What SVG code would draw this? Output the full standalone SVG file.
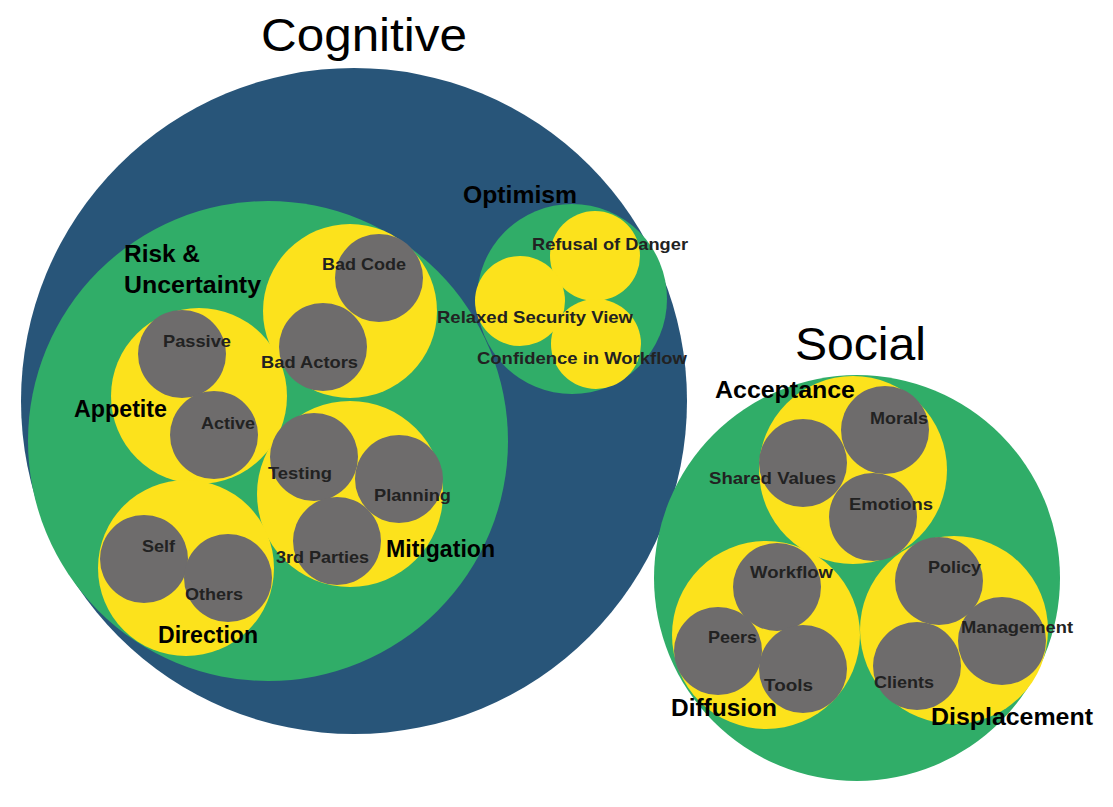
<svg xmlns="http://www.w3.org/2000/svg" width="1113" height="807" viewBox="0 0 1113 807">
<style>
.blue{fill:#285579}
.green{fill:#30ad68}
.yellow{fill:#fce21c}
.gray{fill:#6e6c6c}
.title{font-family:"Liberation Sans",Arial,sans-serif;font-size:46px;fill:#000}
.lbl{font-family:"Liberation Sans",Arial,sans-serif;font-size:23px;font-weight:bold;fill:#000}
.sm{font-family:"Liberation Sans",Arial,sans-serif;font-size:17px;font-weight:bold;fill:#222}
</style>
<rect width="1113" height="807" fill="#fff"/>
<g id="cognitive">
  <circle class="blue" cx="354" cy="401" r="333"/>
  <text class="title" x="261" y="51" textLength="206" lengthAdjust="spacingAndGlyphs">Cognitive</text>
</g>
<g id="risk-uncertainty">
  <circle class="green" cx="268" cy="441" r="240"/>
</g>
<g id="optimism">
  <circle class="green" cx="572" cy="299" r="95"/>
</g>
<g id="refusal-of-danger"><circle class="yellow" cx="595" cy="256" r="45"/></g>
<g id="relaxed-security-view"><circle class="yellow" cx="520" cy="301" r="45"/></g>
<g id="confidence-in-workflow"><circle class="yellow" cx="596" cy="344" r="45"/></g>
<g id="bad-yellow"><circle class="yellow" cx="350" cy="311" r="87"/></g>
<g id="appetite"><circle class="yellow" cx="199" cy="396" r="88"/></g>
<g id="mitigation"><circle class="yellow" cx="350" cy="494" r="93"/></g>
<g id="direction"><circle class="yellow" cx="186" cy="568" r="88"/></g>
<g id="bad-code"><circle class="gray" cx="379" cy="278" r="44"/></g>
<g id="bad-actors"><circle class="gray" cx="323" cy="347" r="44"/></g>
<g id="passive"><circle class="gray" cx="182" cy="354" r="44"/></g>
<g id="active"><circle class="gray" cx="214" cy="435" r="44"/></g>
<g id="testing"><circle class="gray" cx="314" cy="457" r="44"/></g>
<g id="planning"><circle class="gray" cx="399" cy="479" r="44"/></g>
<g id="third-parties"><circle class="gray" cx="337" cy="541" r="44"/></g>
<g id="self"><circle class="gray" cx="144" cy="559" r="44"/></g>
<g id="others"><circle class="gray" cx="228" cy="578" r="44"/></g>

<g id="social">
  <circle class="green" cx="857" cy="578" r="203"/>
  <text class="title" x="795" y="360" textLength="131" lengthAdjust="spacingAndGlyphs">Social</text>
</g>
<g id="acceptance"><circle class="yellow" cx="853" cy="470" r="94"/></g>
<g id="diffusion"><circle class="yellow" cx="766" cy="635" r="94"/></g>
<g id="displacement"><circle class="yellow" cx="954" cy="630" r="94"/></g>
<g id="morals"><circle class="gray" cx="885" cy="430" r="44"/></g>
<g id="shared-values"><circle class="gray" cx="803" cy="463" r="44"/></g>
<g id="emotions"><circle class="gray" cx="873" cy="517" r="44"/></g>
<g id="workflow"><circle class="gray" cx="777" cy="587" r="44"/></g>
<g id="peers"><circle class="gray" cx="718" cy="651" r="44"/></g>
<g id="tools"><circle class="gray" cx="803" cy="669" r="44"/></g>
<g id="policy"><circle class="gray" cx="939" cy="581" r="44"/></g>
<g id="management"><circle class="gray" cx="1002" cy="641" r="44"/></g>
<g id="clients"><circle class="gray" cx="917" cy="666" r="44"/></g>

<g id="connectors"></g>

<g id="labels">
  <text class="lbl" x="463" y="203" textLength="114" lengthAdjust="spacingAndGlyphs">Optimism</text>
  <text class="lbl" x="124" y="262" textLength="76" lengthAdjust="spacingAndGlyphs">Risk &amp;</text>
  <text class="lbl" x="124" y="293" textLength="137" lengthAdjust="spacingAndGlyphs">Uncertainty</text>
  <text class="lbl" x="74" y="417" textLength="93" lengthAdjust="spacingAndGlyphs">Appetite</text>
  <text class="lbl" x="386" y="557" textLength="109" lengthAdjust="spacingAndGlyphs">Mitigation</text>
  <text class="lbl" x="158" y="643" textLength="100" lengthAdjust="spacingAndGlyphs">Direction</text>
  <text class="lbl" x="715" y="398" textLength="140" lengthAdjust="spacingAndGlyphs">Acceptance</text>
  <text class="lbl" x="671" y="716" textLength="106" lengthAdjust="spacingAndGlyphs">Diffusion</text>
  <text class="lbl" x="931" y="725" textLength="162" lengthAdjust="spacingAndGlyphs">Displacement</text>

  <text class="sm" x="322" y="270" textLength="84" lengthAdjust="spacingAndGlyphs">Bad Code</text>
  <text class="sm" x="261" y="368" textLength="97" lengthAdjust="spacingAndGlyphs">Bad Actors</text>
  <text class="sm" x="163" y="347" textLength="68" lengthAdjust="spacingAndGlyphs">Passive</text>
  <text class="sm" x="201" y="429" textLength="54" lengthAdjust="spacingAndGlyphs">Active</text>
  <text class="sm" x="268" y="479" textLength="64" lengthAdjust="spacingAndGlyphs">Testing</text>
  <text class="sm" x="374" y="501" textLength="77" lengthAdjust="spacingAndGlyphs">Planning</text>
  <text class="sm" x="276" y="563" textLength="93" lengthAdjust="spacingAndGlyphs">3rd Parties</text>
  <text class="sm" x="142" y="552" textLength="33" lengthAdjust="spacingAndGlyphs">Self</text>
  <text class="sm" x="185" y="600" textLength="58" lengthAdjust="spacingAndGlyphs">Others</text>
  <text class="sm" x="532" y="250" textLength="156" lengthAdjust="spacingAndGlyphs">Refusal of Danger</text>
  <text class="sm" x="437" y="323" textLength="196" lengthAdjust="spacingAndGlyphs">Relaxed Security View</text>
  <text class="sm" x="477" y="364" textLength="210" lengthAdjust="spacingAndGlyphs">Confidence in Workflow</text>
  <text class="sm" x="870" y="424" textLength="58" lengthAdjust="spacingAndGlyphs">Morals</text>
  <text class="sm" x="709" y="484" textLength="127" lengthAdjust="spacingAndGlyphs">Shared Values</text>
  <text class="sm" x="849" y="510" textLength="84" lengthAdjust="spacingAndGlyphs">Emotions</text>
  <text class="sm" x="750" y="578" textLength="83" lengthAdjust="spacingAndGlyphs">Workflow</text>
  <text class="sm" x="708" y="643" textLength="49" lengthAdjust="spacingAndGlyphs">Peers</text>
  <text class="sm" x="764" y="691" textLength="49" lengthAdjust="spacingAndGlyphs">Tools</text>
  <text class="sm" x="928" y="573" textLength="53" lengthAdjust="spacingAndGlyphs">Policy</text>
  <text class="sm" x="961" y="633" textLength="112" lengthAdjust="spacingAndGlyphs">Management</text>
  <text class="sm" x="874" y="688" textLength="60" lengthAdjust="spacingAndGlyphs">Clients</text>
</g>
</svg>
